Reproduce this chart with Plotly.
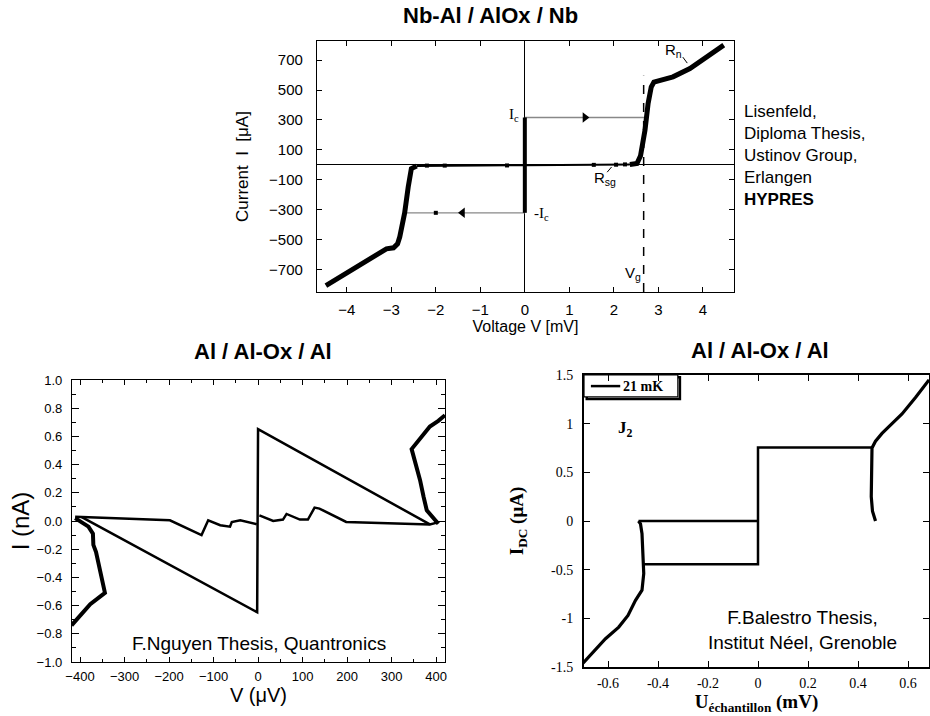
import plotly.graph_objects as go

# ---- Nb-Al / AlOx / Nb (top) ----
nb_neg_v = [-4.47, -4.0, -3.5, -3.2, -3.11, -2.95, -2.86, -2.81, -2.70, -2.62, -2.55, -2.43]
nb_neg_i = [-810, -725, -636, -575, -563, -556, -530, -483, -322, -148, -26, -9]
nb_sub_v = [-2.43, -2.0, -1.0, 0.0, 1.0, 2.0, 2.36]
nb_sub_i = [-9, -7, -5, -3, -1, 0, 2]
nb_pos_v = [2.36, 2.52, 2.60, 2.66, 2.70, 2.77, 2.84, 2.90, 3.0, 3.15, 3.33, 3.71, 4.1, 4.47]
nb_pos_i = [2, 8, 60, 150, 231, 410, 520, 553, 561, 565, 588, 644, 722, 800]
nb_ic_v = [0.0, 0.0]
nb_ic_i = [-322, 316]
nb_up_v = [0.0, 2.70]
nb_up_i = [316, 316]
nb_dn_v = [0.0, -2.70]
nb_dn_i = [-322, -322]
nb_vg_v = [2.67, 2.67]
nb_vg_i = [-852, 595]
nb_dots_v = [-2.2, -1.8, -0.4, 1.55, 2.05, 2.25]
nb_dots_i = [-6, -6, -5, -1, 0, 2]
nb_xticks = [-4, -3, -2, -1, 0, 1, 2, 3, 4]
nb_yticks = [700, 500, 300, 100, -100, -300, -500, -700]

# ---- Al / Al-Ox / Al (bottom left, Nguyen) ----
ng_left_v = [-419, -400, -377, -344, -355, -364, -370, -371, -381, -411]
ng_left_i = [-0.74, -0.67, -0.59, -0.51, -0.33, -0.22, -0.17, -0.09, -0.04, 0.02]
ng_sub1_v = [-411, -396, -198, -127, -112, -85, -63, -59, -40, -3]
ng_sub1_i = [0.03, 0.028, 0.005, -0.10, 0.005, -0.03, -0.04, -0.007, 0.005, -0.023]
ng_sub2_v = [3, 34, 56, 64, 94, 112, 127, 138, 198, 386, 404]
ng_sub2_i = [0.04, 0.0, 0.01, 0.05, 0.01, 0.01, 0.095, 0.088, -0.007, -0.024, -0.01]
ng_tri_v = [-396, -2, 0, 386]
ng_tri_i = [0.028, -0.647, 0.652, -0.024]
ng_right_v = [405, 379, 372, 364, 345, 368, 386, 405, 420]
ng_right_i = [-0.02, 0.076, 0.17, 0.29, 0.51, 0.60, 0.67, 0.71, 0.75]
ng_xticks = [-400, -300, -200, -100, 0, 100, 200, 300, 400]
ng_yticks = [1.0, 0.8, 0.6, 0.4, 0.2, 0.0, -0.2, -0.4, -0.6, -0.8, -1.0]

# ---- Al / Al-Ox / Al (bottom right, Balestro) ----
ba_left_v = [-0.70, -0.61, -0.557, -0.52, -0.49, -0.464, -0.457, -0.46, -0.464, -0.47, -0.478]
ba_left_i = [-1.46, -1.21, -1.09, -0.97, -0.815, -0.71, -0.54, -0.30, -0.13, -0.03, 0.0]
ba_zero_v = [-0.478, 0.0]
ba_zero_i = [0.0, 0.0]
ba_low_v = [-0.464, 0.0, 0.0, 0.456]
ba_low_i = [-0.445, -0.445, 0.754, 0.754]
ba_right_v = [0.47, 0.458, 0.453, 0.453, 0.456, 0.47, 0.496, 0.536, 0.576, 0.63, 0.684]
ba_right_i = [0.0, 0.1, 0.25, 0.45, 0.75, 0.82, 0.9, 1.0, 1.1, 1.27, 1.45]
ba_xticks = [-0.6, -0.4, -0.2, 0, 0.2, 0.4, 0.6]
ba_xtext = ["-0.6", "-0.4", "-0.2", "0", "0.2", "0.4", "0.6"]
ba_yticks = [1.5, 1, 0.5, 0, -0.5, -1, -1.5]
ba_ytext = ["1.5", "1", "0.5", "0", "-0.5", "-1", "-1.5"]

SANS = "Liberation Sans"
SERIF = "Liberation Serif"
W, H = 930, 716


def px_x(a, b):
    return [a / W, b / W]


def px_y(top, bottom):
    return [1 - bottom / H, 1 - top / H]


fig = go.Figure()


def line(x, y, ax, width, color="black", dash="solid"):
    fig.add_trace(go.Scatter(x=x, y=y, mode="lines", xaxis=ax[0], yaxis=ax[1],
                             line=dict(color=color, width=width, dash=dash),
                             showlegend=False, hoverinfo="skip"))


# top
top = ("x", "y")
line(nb_up_v, nb_up_i, top, 1.3, "#888888")
line(nb_dn_v, nb_dn_i, top, 1.3, "#888888")
line(nb_sub_v, nb_sub_i, top, 2)
line(nb_neg_v, nb_neg_i, top, 5)
line(nb_pos_v, nb_pos_i, top, 5)
line(nb_ic_v, nb_ic_i, top, 4)
line(nb_vg_v, nb_vg_i, top, 1.5, dash="dash")
fig.add_trace(go.Scatter(x=[1.35, -1.4], y=[nb_up_i[0], nb_dn_i[0]], mode="markers",
                         marker=dict(symbol=["triangle-right", "triangle-left"], size=9, color="black"),
                         showlegend=False, hoverinfo="skip"))
fig.add_trace(go.Scatter(x=nb_dots_v + [-2.0], y=nb_dots_i + [nb_dn_i[0]], mode="markers",
                         marker=dict(symbol="square", size=4, color="black"),
                         showlegend=False, hoverinfo="skip"))

# bottom left
bl = ("x2", "y2")
line(ng_sub1_v, ng_sub1_i, bl, 2.5)
line(ng_sub2_v, ng_sub2_i, bl, 2.5)
line(ng_tri_v, ng_tri_i, bl, 2.5)
line(ng_left_v, ng_left_i, bl, 4)
line(ng_right_v, ng_right_i, bl, 4)

# bottom right
br = ("x3", "y3")
line(ba_left_v, ba_left_i, br, 3.2)
line(ba_zero_v, ba_zero_i, br, 2.5)
line(ba_low_v, ba_low_i, br, 2.5)
line(ba_right_v, ba_right_i, br, 3.2)

axis_common = dict(showline=True, linecolor="black", linewidth=1.3, mirror="ticks",
                   ticks="inside", tickcolor="black", showgrid=False, automargin=False)

fig.update_layout(
    width=W, height=H, margin=dict(l=0, r=0, t=0, b=0),
    paper_bgcolor="white", plot_bgcolor="white",
    xaxis=dict(axis_common, domain=px_x(317, 734), range=[-4.67, 4.70], tickvals=nb_xticks,
               ticklen=5, zeroline=True, zerolinecolor="black", zerolinewidth=1.2,
               tickfont=dict(family=SANS, size=15, color="black"), ticklabelstandoff=4,
               title=dict(text="Voltage V [mV]", font=dict(family=SANS, size=16, color="black"), standoff=2)),
    yaxis=dict(axis_common, domain=px_y(41, 292), range=[-852, 828], tickvals=nb_yticks,
               ticklen=5, zeroline=True, zerolinecolor="black", zerolinewidth=1.2,
               tickfont=dict(family=SANS, size=15, color="black"), ticklabelstandoff=10,
               title=dict(text="Current  I  [μA]", font=dict(family=SANS, size=17, color="black"), standoff=16)),
    xaxis2=dict(axis_common, anchor="y2", domain=px_x(72, 445), range=[-418, 420], tickvals=ng_xticks,
                ticklen=5, zeroline=False,
                minor=dict(ticks="inside", dtick=50, ticklen=3, tickcolor="black"),
                tickfont=dict(family=SANS, size=13, color="black"), ticklabelstandoff=2,
                title=dict(text="V (μV)", font=dict(family=SANS, size=20, color="black"), standoff=0)),
    yaxis2=dict(axis_common, anchor="x2", domain=px_y(380, 662), range=[-1, 1], tickvals=ng_yticks,
                tickformat=".1f", ticklen=7, zeroline=False,
                minor=dict(ticks="inside", dtick=0.1, ticklen=4, tickcolor="black"),
                tickfont=dict(family=SANS, size=13, color="black"), ticklabelstandoff=6,
                title=dict(text="I (nA)", font=dict(family=SANS, size=24, color="black"), standoff=0)),
    xaxis3=dict(axis_common, anchor="y3", domain=px_x(584, 929), range=[-0.696, 0.684],
                tickvals=ba_xticks, ticktext=ba_xtext, ticklen=6, zeroline=False,
                linewidth=2, tickfont=dict(family=SERIF, size=14, color="black"), ticklabelstandoff=2,
                title=dict(text="<b>U<sub>échantillon</sub> (mV)</b>",
                           font=dict(family=SERIF, size=19, color="black"), standoff=2)),
    yaxis3=dict(axis_common, anchor="x3", domain=px_y(375, 667), range=[-1.5, 1.5],
                tickvals=ba_yticks, ticktext=ba_ytext, ticklen=6, zeroline=False,
                linewidth=2, tickfont=dict(family=SERIF, size=14, color="black"), ticklabelstandoff=6,
                title=dict(text="<b>I<sub>DC</sub> (μA)</b>",
                           font=dict(family=SERIF, size=19, color="black"), standoff=22)),
)

ann = []


def text(t, x, y, size, family=SANS, xref="paper", yref="paper", xanchor="center", **kw):
    ann.append(dict(text=t, x=x, y=y, xref=xref, yref=yref, showarrow=False,
                    xanchor=xanchor, yanchor="middle",
                    font=dict(family=family, size=size, color="black"), **kw))


# titles
text("<b>Nb-Al / AlOx / Nb</b>", 490 / W, 1 - 16 / H, 22)
text("<b>Al / Al-Ox / Al</b>", 263 / W, 1 - 352 / H, 22)
text("<b>Al / Al-Ox / Al</b>", 760 / W, 1 - 350 / H, 22)

# top annotations
text("Lisenfeld,<br>Diploma Thesis,<br>Ustinov Group,<br>Erlangen<br><b>HYPRES</b>",
     742 / W, 1 - 155 / H, 17, xanchor="left", align="left")
text("I<sub>c</sub>", -0.25, 330, 15, SERIF, "x", "y")
text("-I<sub>c</sub>", 0.38, -330, 15, SERIF, "x", "y")
text("V<sub>g</sub>", 2.42, -730, 15, SANS, "x", "y")
text("R<sub>sg</sub>", 1.8, -95, 15, SANS, "x", "y")
text("R<sub>n</sub>", 3.33, 765, 15, SANS, "x", "y")

# bottom-left annotation
text("F.Nguyen Thesis, Quantronics", 259 / W, 1 - 643 / H, 19)

# bottom-right annotations
text("F.Balestro Thesis,<br>Institut Néel, Grenoble", 802 / W, 1 - 630 / H, 19)
text("<b>J<sub>2</sub></b>", -0.53, 0.95, 17, SERIF, "x3", "y3")
text("<b>21 mK</b>", 0.108, 0.962, 14, SERIF, "x3 domain", "y3 domain", xanchor="left")
fig.update_layout(annotations=ann)

fig.update_layout(shapes=[
    dict(type="line", xref="x", yref="y", x0=1.85, y0=-50, x1=1.95, y1=-15,
         line=dict(color="black", width=1)),
    dict(type="line", xref="x", yref="y", x0=3.55, y0=720, x1=3.65, y1=680,
         line=dict(color="black", width=1)),
    dict(type="rect", xref="x3 domain", yref="y3 domain", x0=0.008, y0=0.918, x1=0.278, y1=0.992,
         line=dict(color="black", width=2.5), layer="below"),
    dict(type="rect", xref="x3 domain", yref="y3 domain", x0=0.0, y0=0.925, x1=0.272, y1=1.0,
         fillcolor="white", line=dict(color="black", width=1.2), layer="below"),
    dict(type="line", xref="x3 domain", yref="y3 domain", x0=0.02, y0=0.962, x1=0.105, y1=0.962,
         line=dict(color="black", width=2.5)),
])

# the browser's default 8px body margin would push the figure off the window
fig.write_html("out.html", config={"displayModeBar": False},
               post_script="document.body.style.margin='0px';")
